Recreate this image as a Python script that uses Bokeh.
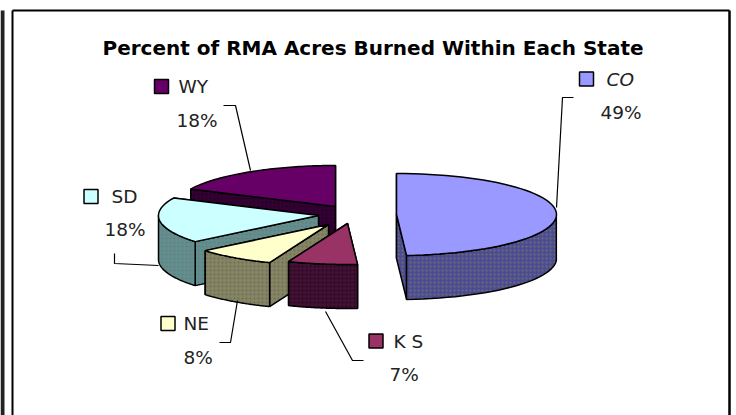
import numpy as np
from bokeh.plotting import figure
from bokeh.models import Range1d
from bokeh.core.properties import value
from bokeh.embed import file_html
from bokeh.resources import INLINE

# ---- data
states = ["CO", "KS", "NE", "SD", "WY"]
shares = [49, 7, 8, 18, 18]
share_labels = ["49%", "7%", "8%", "18%", "18%"]
title = "Percent of RMA Acres Burned Within Each State"
top_colors = ["#9999ff", "#993366", "#ffffcc", "#ccffff", "#660066"]
side_colors = ["#4c4c92", "#40122f", "#85855f", "#5f8f8f", "#330033"]
hatch_colors = ["#707070", "#2a0030", "#6a6a6a", "#707878", "#200020"]

# ---- layout (picture pixels)
W, H = 736, 415
RX, RY, DEPTH = 160, 41, 44
apex = {"CO": (396, 214), "KS": (347, 223), "NE": (328, 224), "SD": (318, 215), "WY": (335, 206)}
draw_order = ["WY", "SD", "CO", "NE", "KS"]
name_pos = {"CO": (606, 79), "KS": (393, 341), "NE": (183, 323), "SD": (111, 196), "WY": (178, 86)}
pct_pos = {"CO": (600, 112), "KS": (389, 374), "NE": (183, 357), "SD": (104, 229), "WY": (176, 120)}
swatch_pos = {"CO": (586, 78.5), "KS": (375.5, 340.5), "NE": (167.5, 323), "SD": (90.5, 196), "WY": (161, 86)}
leaders = {
    "CO": ([573, 562, 556], [97, 97, 207]),
    "KS": ([325, 352, 363], [311, 360, 360]),
    "NE": ([219, 230, 237], [342, 342, 300]),
    "SD": ([114, 114, 158], [253, 263, 265]),
    "WY": ([223, 235, 250], [105, 105, 170]),
}

p = figure(width=W, height=H, output_backend="svg", toolbar_location=None,
           x_range=Range1d(0, W), y_range=Range1d(H, 0),
           min_border=0, x_axis_type=None, y_axis_type=None, outline_line_color=None)
p.grid.visible = False

# frame and the strip at the left edge
p.line([2, 2], [10, H], line_color="#222222", line_width=4)
p.line([12, 12], [10, H], line_color="black", line_width=2)
p.line([12, 729], [10, 10], line_color="black", line_width=2)
p.line([729, 729], [10, H], line_color="black", line_width=2.5)

# slices from the shares
edges = np.concatenate([[0], np.cumsum(shares)]) / sum(shares) * 2 * np.pi
bounds = {s: (edges[i], edges[i + 1]) for i, s in enumerate(states)}


def rim(ax, ay, t):
    return ax + RX * np.sin(t), ay - RY * np.cos(t)


for s in draw_order:
    i = states.index(s)
    ax, ay = apex[s]
    a0, a1 = bounds[s]
    t = np.linspace(a0, a1, 60)
    rx, ry = rim(ax, ay, t)
    faces = []
    for e in (a0, a1):
        ex, ey = rim(ax, ay, e)
        faces.append(([ax, ex, ex, ax], [ay, ey, ey + DEPTH, ay + DEPTH]))
    faces.sort(key=lambda f: np.mean(f[1]))
    # outer wall: only the part of the rim that faces the viewer
    front = np.cos(t) <= 0
    if front.any():
        fx, fy = rx[front], ry[front]
        faces.append((list(fx) + list(fx[::-1]), list(fy) + list(fy[::-1] + DEPTH)))
    p.patches([f[0] for f in faces], [f[1] for f in faces], fill_color=side_colors[i],
              line_color="black", line_width=1.5,
              hatch_pattern="dot", hatch_color=hatch_colors[i], hatch_scale=4, hatch_weight=1)
    p.patch([ax] + list(rx), [ay] + list(ry), fill_color=top_colors[i],
            line_color="black", line_width=1.5)

# leaders, swatches, texts
p.multi_line([leaders[s][0] for s in states], [leaders[s][1] for s in states],
             line_color="black", line_width=1.2)
p.rect([swatch_pos[s][0] for s in states], [swatch_pos[s][1] for s in states], width=14, height=14,
       fill_color=top_colors, line_color="black", line_width=1.5)
for i, s in enumerate(states):
    style = "italic" if s == "CO" else "normal"
    txt = "K S" if s == "KS" else s
    p.text([name_pos[s][0]], [name_pos[s][1]], text=[txt], text_font=value("DejaVu Sans"),
           text_font_size="18.5px", text_font_style=style, text_color="#222222",
           text_baseline="middle", text_align="left")
    p.text([pct_pos[s][0]], [pct_pos[s][1]], text=[share_labels[i]], text_font=value("DejaVu Sans"),
           text_font_size="18.5px", text_color="#222222", text_baseline="middle", text_align="left")
p.text([372.5], [47], text=[title], text_font=value("DejaVu Sans"), text_font_size="20px",
       text_font_style="bold", text_color="black", text_baseline="middle", text_align="center")

open("out.html", "w").write(file_html(p, INLINE))
